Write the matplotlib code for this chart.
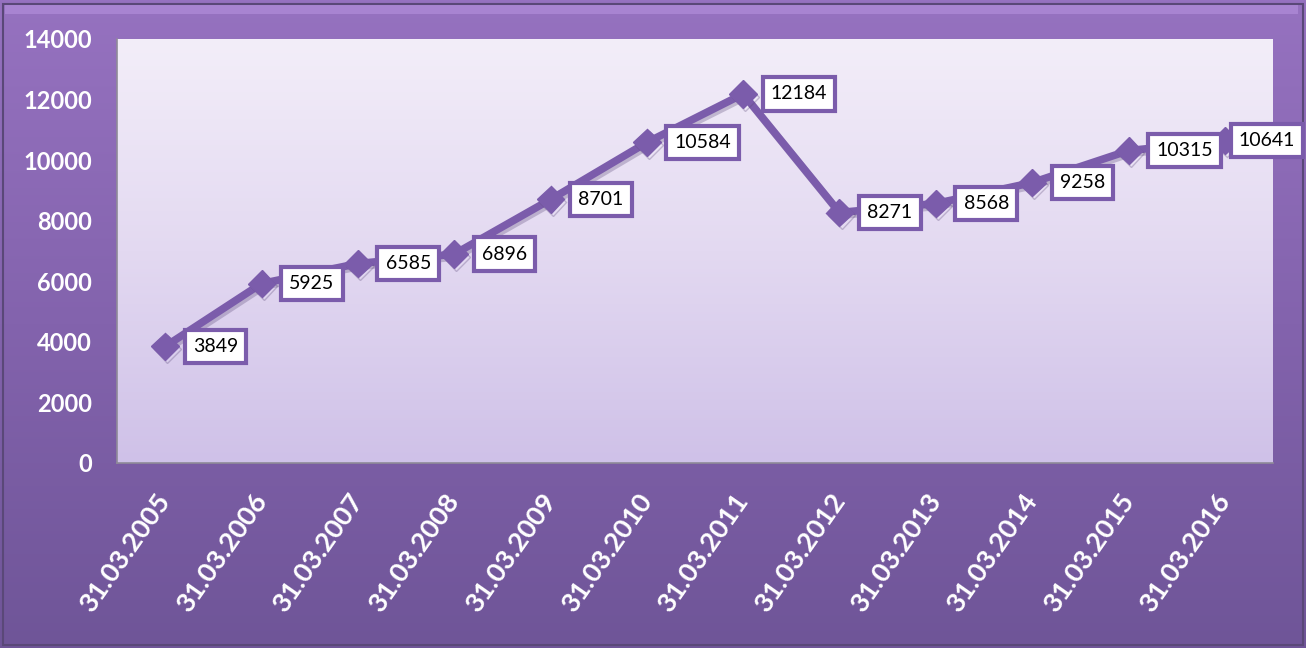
import numpy as np
import matplotlib
matplotlib.use("Agg")
import matplotlib.pyplot as plt
from matplotlib.colors import LinearSegmentedColormap
from matplotlib.patches import Rectangle
import matplotlib.patheffects as pe

categories = ["31.03.2005", "31.03.2006", "31.03.2007", "31.03.2008", "31.03.2009",
              "31.03.2010", "31.03.2011", "31.03.2012", "31.03.2013", "31.03.2014",
              "31.03.2015", "31.03.2016"]
values = [3849, 5925, 6585, 6896, 8701, 10584, 12184, 8271, 8568, 9258, 10315, 10641]
yticks = [0, 2000, 4000, 6000, 8000, 10000, 12000, 14000]

FONT = "Lato"
LINE = "#7b5cab"

fig = plt.figure(figsize=(13.06, 6.48), dpi=100)

# outer gradient frame
bg = fig.add_axes([0, 0, 1, 1], zorder=-10)
bg.set_axis_off()
grad = np.linspace(0, 1, 256).reshape(-1, 1)
cmap_bg = LinearSegmentedColormap.from_list("bg", ["#9672c0", "#8363ad", "#6f5598"])
bg.imshow(grad, aspect="auto", cmap=cmap_bg, extent=[0, 1, 0, 1], origin="upper")
bg.set_xlim(0, 1); bg.set_ylim(0, 1)
bg.add_patch(Rectangle((0.002, 0.004), 0.996, 0.99, fill=False, edgecolor="#5a4878", lw=1.5))
bg.add_patch(Rectangle((0.004, 0.978), 0.99, 0.015, facecolor="#b894e0", edgecolor="none", alpha=0.55))

ax = fig.add_axes([117/1306, 1-463/648, (1273-117)/1306, (463-39)/648])
cmap_pa = LinearSegmentedColormap.from_list("pa", ["#f3eef9", "#e3d9f1", "#cfc1e8"])
ax.imshow(grad, aspect="auto", cmap=cmap_pa, extent=[0, 1, 0, 1], origin="upper",
          transform=ax.transAxes, zorder=0)

x = np.arange(len(categories))
ax.plot(x, values, color=LINE, lw=5.5, marker="D", markersize=14,
        markerfacecolor=LINE, markeredgecolor=LINE, zorder=3, clip_on=False,
        path_effects=[pe.SimpleLineShadow(offset=(1.5, -2), shadow_color="#5a4878", alpha=0.3), pe.Normal()])

for i, (xi, v) in enumerate(zip(x, values)):
    dx = 20 if i < len(values) - 1 else 10
    ax.annotate(str(v), (xi, v), xytext=(dx, 0), textcoords="offset points",
                ha="left", va="center", fontsize=14, family=FONT, color="black",
                bbox=dict(boxstyle="square,pad=0.42", facecolor="white", edgecolor=LINE, lw=3),
                zorder=5, annotation_clip=False)

ax.set_xlim(-0.5, len(categories) - 0.5)
ax.set_ylim(0, 14000)
ax.set_yticks(yticks)
ax.set_yticklabels([str(t) for t in yticks], color="white", fontsize=17,
                   family=FONT, fontweight="bold")
ax.set_xticks(x)
ax.set_xticklabels(categories, color="white", fontsize=19.5, family=FONT, fontweight="bold",
                   rotation=55, ha="right", va="center", rotation_mode="anchor")
ax.tick_params(axis="both", length=0)
ax.tick_params(axis="y", pad=18)
ax.tick_params(axis="x", pad=24)
for s in ["top", "right"]:
    ax.spines[s].set_visible(False)
for s in ["left", "bottom"]:
    ax.spines[s].set_color("#8f8a98")
    ax.spines[s].set_linewidth(1.2)

fig.savefig("out.png", dpi=100)
